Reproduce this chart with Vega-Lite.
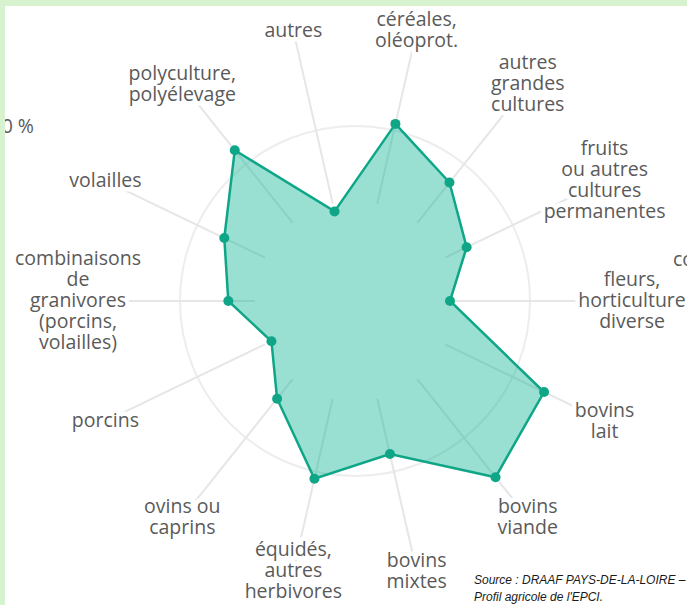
{
  "$schema": "https://vega.github.io/schema/vega-lite/v6.json",
  "width": 682,
  "height": 599,
  "autosize": "none",
  "padding": {"left": 5, "top": 6, "right": 0, "bottom": 0},
  "background": "#d7f2cf",
  "view": {"fill": "white", "stroke": null},
  "data": {
    "values": [
      {"idx": 0, "categorie": "céréales,\noléoprot.", "valeur": 10.38},
      {"idx": 1, "categorie": "autres\ngrandes\ncultures", "valeur": 8.66},
      {"idx": 2, "categorie": "fruits\nou autres\ncultures\npermanentes", "valeur": 7.08},
      {"idx": 3, "categorie": "fleurs,\nhorticulture\ndiverse", "valeur": 5.43},
      {"idx": 4, "categorie": "bovins\nlait", "valeur": 11.99},
      {"idx": 5, "categorie": "bovins\nviande", "valeur": 12.88},
      {"idx": 6, "categorie": "bovins\nmixtes", "valeur": 8.97},
      {"idx": 7, "categorie": "équidés,\nautres\nherbivores", "valeur": 10.42},
      {"idx": 8, "categorie": "ovins ou\ncaprins", "valeur": 7.14},
      {"idx": 9, "categorie": "porcins", "valeur": 5.3},
      {"idx": 10, "categorie": "combinaisons\nde\ngranivores\n(porcins,\nvolailles)", "valeur": 7.24},
      {"idx": 11, "categorie": "volailles", "valeur": 8.29},
      {"idx": 12, "categorie": "polyculture,\npolyélevage", "valeur": 11.02},
      {"idx": 13, "categorie": "autres", "valeur": 5.25}
    ]
  },
  "transform": [
    {"calculate": "(datum.idx + 0.5) * 2 * PI / 14", "as": "ang"},
    {"calculate": "length(split(datum.categorie, '\\n'))", "as": "nl"},
    {"calculate": "datum.valeur * 17.5 * sin(datum.ang)", "as": "px"},
    {"calculate": "datum.valeur * 17.5 * cos(datum.ang)", "as": "py"},
    {"calculate": "100 * sin(datum.ang)", "as": "sx1"},
    {"calculate": "100 * cos(datum.ang)", "as": "sy1"},
    {"calculate": "277 * sin(datum.ang)", "as": "sx2"},
    {"calculate": "277 * cos(datum.ang)", "as": "sy2"},
    {"calculate": "277 * sin(datum.ang)", "as": "lx"},
    {"calculate": "277 * cos(datum.ang) + (datum.nl - 1) * 10.5", "as": "ly"}
  ],
  "layer": [
    {
      "data": {"values": [{"cercle": 10}]},
      "mark": {"type": "point", "shape": "circle", "filled": false, "size": 122500, "stroke": "#e6e6e6", "strokeWidth": 2},
      "encoding": {
        "x": {"datum": 0, "type": "quantitative", "scale": {"domain": [-350, 332], "nice": false, "zero": false}, "axis": null},
        "y": {"datum": 0, "type": "quantitative", "scale": {"domain": [-304, 295], "nice": false, "zero": false}, "axis": null}
      }
    },
    {
      "mark": {"type": "rule", "stroke": "#e6e6e6", "strokeWidth": 2},
      "encoding": {
        "x": {"field": "sx1", "type": "quantitative", "scale": {"domain": [-350, 332], "nice": false, "zero": false}, "axis": null},
        "y": {"field": "sy1", "type": "quantitative", "scale": {"domain": [-304, 295], "nice": false, "zero": false}, "axis": null},
        "x2": {"field": "sx2"},
        "y2": {"field": "sy2"}
      }
    },
    {
      "mark": {"type": "line", "interpolate": "linear-closed", "fill": "#0db393", "fillOpacity": 0.42, "stroke": "#0fa688", "strokeWidth": 2.5},
      "encoding": {
        "x": {"field": "px", "type": "quantitative", "scale": {"domain": [-350, 332], "nice": false, "zero": false}, "axis": null},
        "y": {"field": "py", "type": "quantitative", "scale": {"domain": [-304, 295], "nice": false, "zero": false}, "axis": null},
        "order": {"field": "idx"}
      }
    },
    {
      "mark": {"type": "point", "shape": "circle", "filled": true, "size": 100, "color": "#0fa688", "opacity": 1},
      "encoding": {
        "x": {"field": "px", "type": "quantitative", "scale": {"domain": [-350, 332], "nice": false, "zero": false}, "axis": null},
        "y": {"field": "py", "type": "quantitative", "scale": {"domain": [-304, 295], "nice": false, "zero": false}, "axis": null}
      }
    },
    {
      "mark": {"type": "text", "lineBreak": "\n", "font": "Open Sans", "fontSize": 19.5, "lineHeight": 21, "align": "center", "baseline": "middle", "fill": "white", "stroke": "white", "strokeWidth": 9, "strokeJoin": "round"},
      "encoding": {
        "x": {"field": "lx", "type": "quantitative", "scale": {"domain": [-350, 332], "nice": false, "zero": false}, "axis": null},
        "y": {"field": "ly", "type": "quantitative", "scale": {"domain": [-304, 295], "nice": false, "zero": false}, "axis": null},
        "text": {"field": "categorie"}
      }
    },
    {
      "mark": {"type": "text", "lineBreak": "\n", "font": "Open Sans", "fontSize": 19.5, "lineHeight": 21, "align": "center", "baseline": "middle", "fill": "#5a5a5a"},
      "encoding": {
        "x": {"field": "lx", "type": "quantitative", "scale": {"domain": [-350, 332], "nice": false, "zero": false}, "axis": null},
        "y": {"field": "ly", "type": "quantitative", "scale": {"domain": [-304, 295], "nice": false, "zero": false}, "axis": null},
        "text": {"field": "categorie"}
      }
    },
    {
      "data": {"values": [{"texte": "combinaisons\nde\ngranivores\n(porcins,\nvolailles)"}]},
      "mark": {"type": "text", "lineBreak": "\n", "font": "Open Sans", "fontSize": 19.5, "lineHeight": 21, "align": "center", "baseline": "middle", "fill": "#5a5a5a", "clip": true},
      "encoding": {
        "x": {"datum": 381, "type": "quantitative", "scale": {"domain": [-350, 332], "nice": false, "zero": false}, "axis": null},
        "y": {"datum": 41, "type": "quantitative", "scale": {"domain": [-304, 295], "nice": false, "zero": false}, "axis": null},
        "text": {"field": "texte"}
      }
    },
    {
      "data": {"values": [{"texte": "10 %"}]},
      "mark": {"type": "text", "font": "Open Sans", "fontSize": 19.5, "align": "right", "baseline": "middle", "fill": "#5a5a5a", "clip": true},
      "encoding": {
        "x": {"datum": -321, "type": "quantitative", "scale": {"domain": [-350, 332], "nice": false, "zero": false}, "axis": null},
        "y": {"datum": 174, "type": "quantitative", "scale": {"domain": [-304, 295], "nice": false, "zero": false}, "axis": null},
        "text": {"field": "texte"}
      }
    },
    {
      "data": {"values": [{"texte": "Source : DRAAF PAYS-DE-LA-LOIRE –\nProfil agricole de l'EPCI."}]},
      "mark": {"type": "text", "lineBreak": "\n", "font": "Liberation Sans", "fontStyle": "italic", "fontSize": 12, "lineHeight": 17, "align": "left", "baseline": "middle", "fill": "#1a1a1a"},
      "encoding": {
        "x": {"datum": 119, "type": "quantitative", "scale": {"domain": [-350, 332], "nice": false, "zero": false}, "axis": null},
        "y": {"datum": -279, "type": "quantitative", "scale": {"domain": [-304, 295], "nice": false, "zero": false}, "axis": null},
        "text": {"field": "texte"}
      }
    }
  ]
}
